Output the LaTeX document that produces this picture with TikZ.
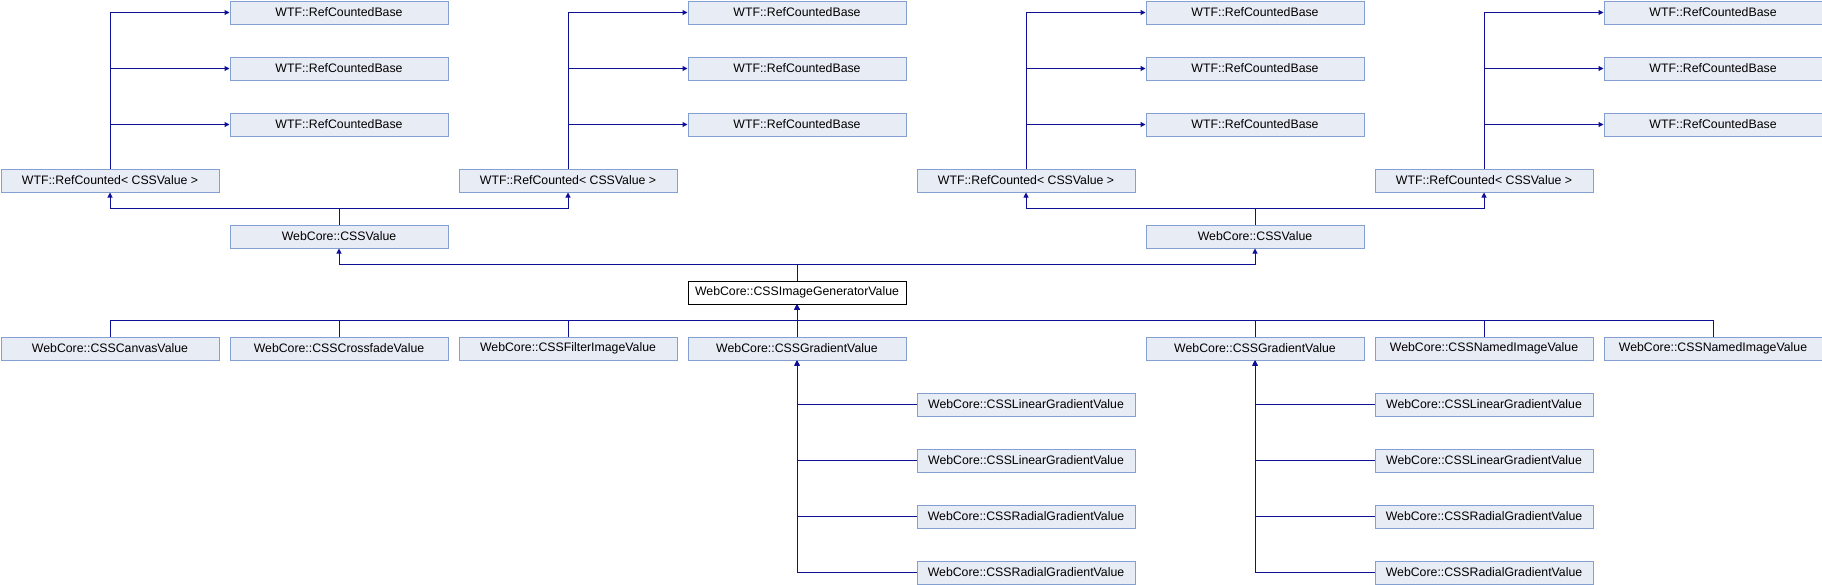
\documentclass[tikz,border=0pt]{standalone}
\usepackage{fontspec}
\setmainfont{Liberation Sans}
\usetikzlibrary{arrows.meta}
\definecolor{edgecol}{RGB}{16,16,150}
\definecolor{boxfill}{RGB}{232,236,245}
\definecolor{boxline}{RGB}{132,160,208}
\tikzset{
  cls/.style={draw=boxline, fill=boxfill, line width=1pt, rectangle, anchor=north west,
    minimum width=218pt, minimum height=23pt, inner sep=0pt,
    font=\fontsize{12.3}{14}\selectfont},
  curcls/.style={cls, draw=black, fill=white},
  edge/.style={draw=edgecol, line width=1pt, -{Triangle[length=5pt,width=5pt]}},
}
\begin{document}
\begin{tikzpicture}[x=1pt,y=-1pt]
\useasboundingbox (0,0) rectangle (1822,584);
\begin{scope}[shift={(0.5,0.5)}]
% rows 0-2: bases
\foreach \c in {1,3,5,7}{
  \node[cls] (b\c a) at (229*\c,0) {WTF::RefCountedBase};
  \node[cls] (b\c b) at (229*\c,56) {WTF::RefCountedBase};
  \node[cls] (b\c c) at (229*\c,112) {WTF::RefCountedBase};
}
% row 3
\foreach \c in {0,2,4,6}{
  \node[cls] (rc\c) at (229*\c,168) {WTF::RefCounted<\ CSSValue\ >};
}
% row 4
\node[cls] (v1) at (229,224) {WebCore::CSSValue};
\node[cls] (v5) at (1145,224) {WebCore::CSSValue};
% row 5
\node[curcls] (gen) at (687,280) {WebCore::CSSImageGeneratorValue};
% row 6
\node[cls] (canvas) at (0,336) {WebCore::CSSCanvasValue};
\node[cls] (cross) at (229,336) {WebCore::CSSCrossfadeValue};
\node[cls] (filter) at (458,336) {WebCore::CSSFilterImageValue};
\node[cls] (grad3) at (687,336) {WebCore::CSSGradientValue};
\node[cls] (grad5) at (1145,336) {WebCore::CSSGradientValue};
\node[cls] (named6) at (1374,336) {WebCore::CSSNamedImageValue};
\node[cls] (named7) at (1603,336) {WebCore::CSSNamedImageValue};
% rows 7-10
\foreach \c in {4,6}{
  \node[cls] (lin\c a) at (229*\c,392) {WebCore::CSSLinearGradientValue};
  \node[cls] (lin\c b) at (229*\c,448) {WebCore::CSSLinearGradientValue};
  \node[cls] (rad\c a) at (229*\c,504) {WebCore::CSSRadialGradientValue};
  \node[cls] (rad\c b) at (229*\c,560) {WebCore::CSSRadialGradientValue};
}
% edges: RefCounted -> RefCountedBase
\foreach \r/\b in {0/1,2/3,4/5,6/7}{
  \foreach \s in {a,b,c}{
    \draw[edge] (rc\r.north) |- (b\b\s.west);
  }
}
% CSSValue -> RefCounted
\draw[edge] (v1.north) -- ++(0,-16.5) -| (rc0.south);
\draw[edge] (v1.north) -- ++(0,-16.5) -| (rc2.south);
\draw[edge] (v5.north) -- ++(0,-16.5) -| (rc4.south);
\draw[edge] (v5.north) -- ++(0,-16.5) -| (rc6.south);
% generator -> CSSValue
\draw[edge] (gen.north) -- ++(0,-16.5) -| (v1.south);
\draw[edge] (gen.north) -- ++(0,-16.5) -| (v5.south);
% row 6 -> generator
\foreach \n in {canvas,cross,filter,grad3,grad5,named6,named7}{
  \draw[edge] (\n.north) -- ++(0,-16.5) -| (gen.south);
}
% gradients
\foreach \s in {lin4a,lin4b,rad4a,rad4b}{
  \draw[edge] (\s.west) -| (grad3.south);
}
\foreach \s in {lin6a,lin6b,rad6a,rad6b}{
  \draw[edge] (\s.west) -| (grad5.south);
}
\end{scope}
\end{tikzpicture}
\end{document}
